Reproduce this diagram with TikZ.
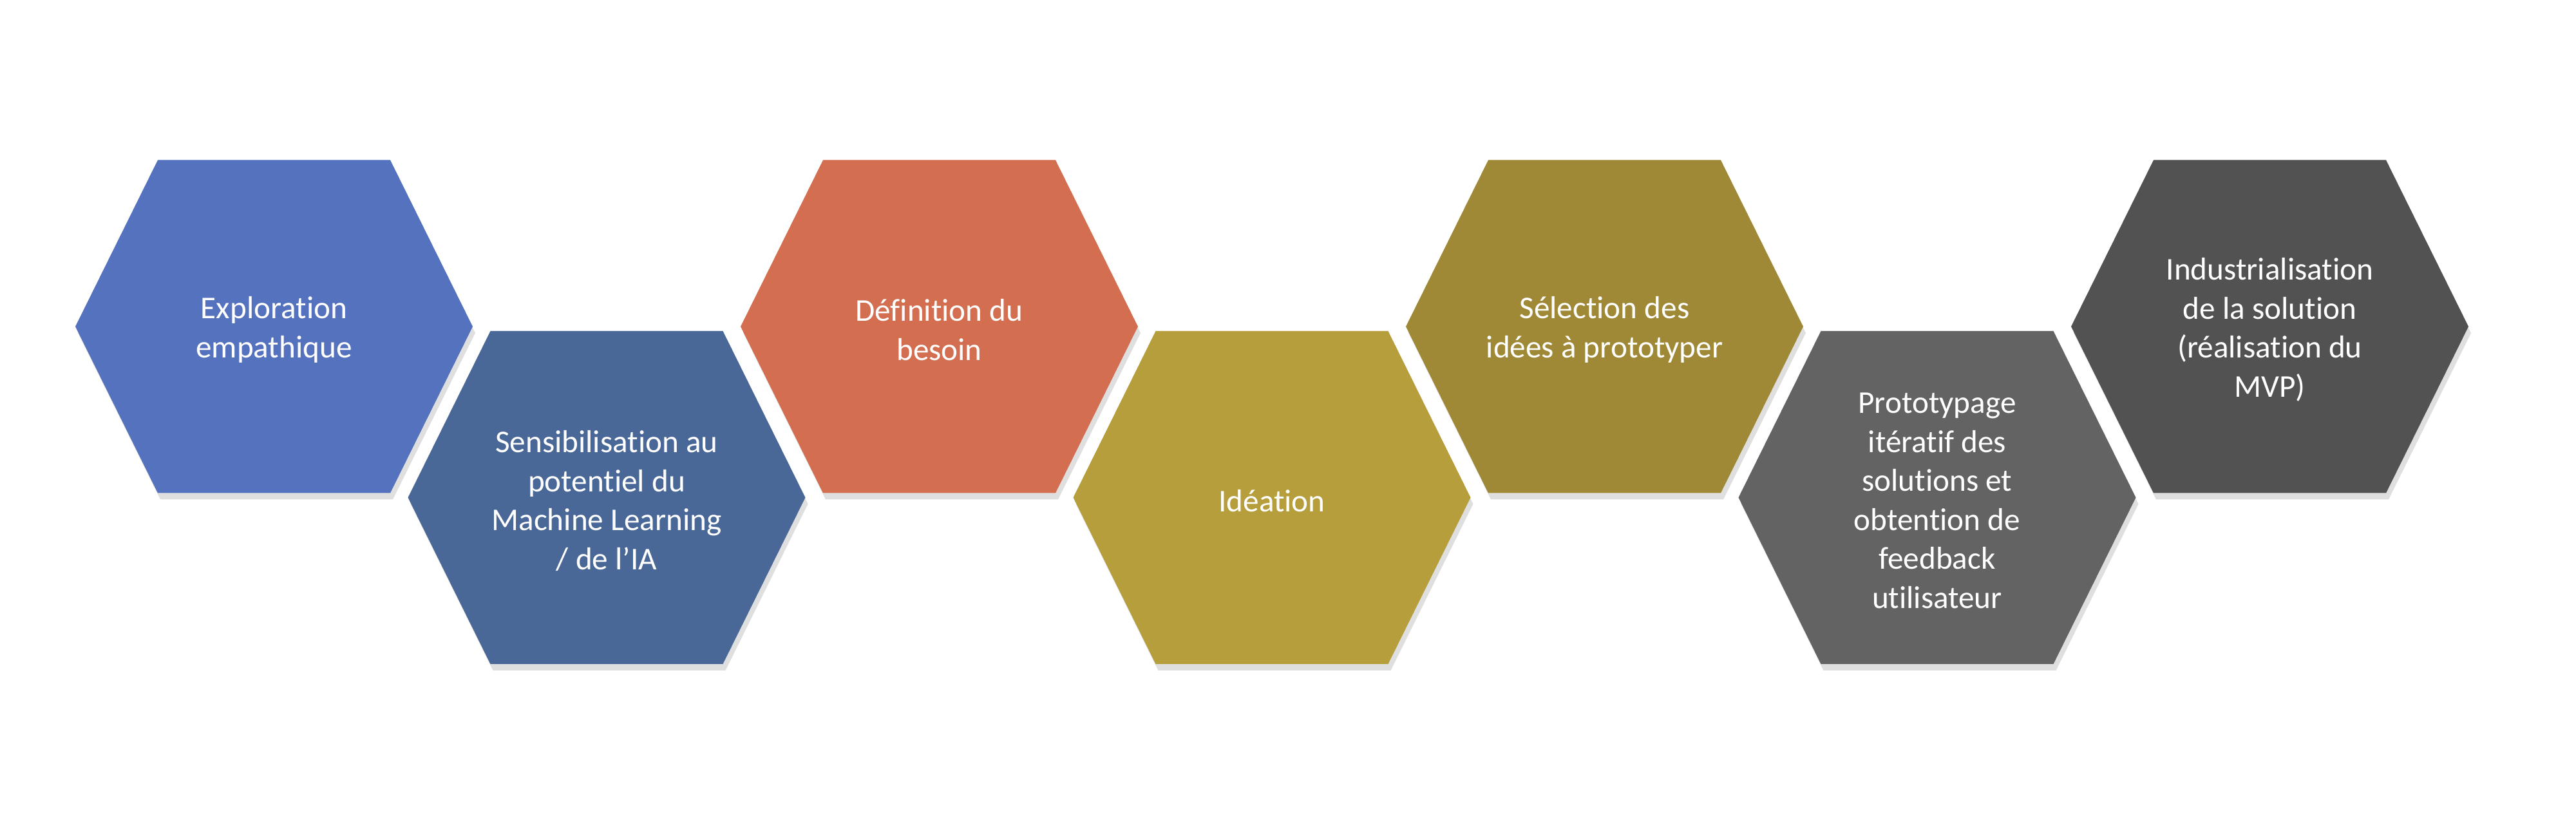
\documentclass[tikz,border=0pt]{standalone}
\usepackage{fontspec}
\setmainfont{Carlito}[Ligatures=NoCommon]
\usetikzlibrary{shadows}
\definecolor{hexblue}{RGB}{85,114,191}
\definecolor{hexnavy}{RGB}{74,104,151}
\definecolor{hexorange}{RGB}{211,111,80}
\definecolor{hexgold}{RGB}{182,158,60}
\definecolor{hexolive}{RGB}{160,137,54}
\definecolor{hexgrey}{RGB}{99,99,99}
\definecolor{hexdark}{RGB}{82,82,82}
\tikzset{
  hexa/.style={drop shadow={shadow xshift=0.04cm,shadow yshift=-0.1cm,opacity=0.25}},
  hexlabel/.style={text=white,align=center,yshift=-0.05cm,font=\fontsize{14}{17.2}\selectfont}
}
\newcommand{\hexpath}{++(-3.085,0) -- ++(1.28,2.585) -- ++(3.61,0) -- ++(1.28,-2.585) -- ++(-1.28,-2.585) -- ++(-3.61,0) -- cycle}
\begin{document}
\begin{tikzpicture}
\useasboundingbox (0,0) rectangle (40,12.7);
\coordinate (h1) at (4.255,7.63);
\coordinate (h2) at (9.42,4.975);
\coordinate (h3) at (14.585,7.63);
\coordinate (h4) at (19.75,4.975);
\coordinate (h5) at (24.915,7.63);
\coordinate (h6) at (30.08,4.975);
\coordinate (h7) at (35.245,7.63);
\fill [hexa,fill=hexblue] (h1) \hexpath;
\fill [hexa,fill=hexnavy] (h2) \hexpath;
\fill [hexa,fill=hexorange] (h3) \hexpath;
\fill [hexa,fill=hexgold] (h4) \hexpath;
\fill [hexa,fill=hexolive] (h5) \hexpath;
\fill [hexa,fill=hexgrey] (h6) \hexpath;
\fill [hexa,fill=hexdark] (h7) \hexpath;
\node [hexlabel] (exploration) at (h1) {Exploration\\empathique};
\node [hexlabel] (sensibilisation) at (h2) {Sensibilisation au\\potentiel du\\Machine Learning\\/ de l’IA};
\node [hexlabel] (definition) at (h3) {Définition du\\besoin};
\node [hexlabel] (ideation) at (h4) {Idéation};
\node [hexlabel] (selection) at (h5) {Sélection des\\idées à prototyper};
\node [hexlabel] (prototypage) at (h6) {Prototypage\\itératif des\\solutions et\\obtention de\\feedback\\utilisateur};
\node [hexlabel] (industrialisation) at (h7) {Industrialisation\\de la solution\\(réalisation du\\MVP)};
\end{tikzpicture}
\end{document}
